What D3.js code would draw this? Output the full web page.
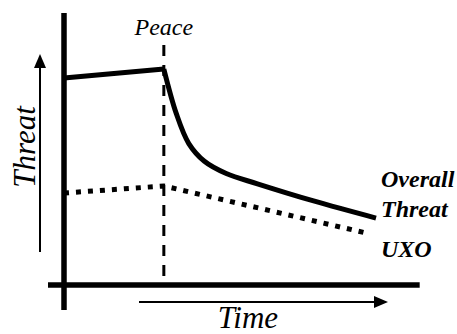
<!DOCTYPE html>
<html>
<head>
<meta charset="utf-8">
<script src="https://cdn.jsdelivr.net/npm/d3@7"></script>
<style>
  body { margin: 0; background: #fff; }
</style>
</head>
<body>
<div id="chart"></div>
<script>
// threat over time (arbitrary units)
const overallTime = [0, 32, 36, 40, 45, 52, 62, 80, 100];
const overallThreat = [76.1, 79.4, 63, 52, 45.5, 41, 37.2, 30.9, 24.6];
const uxoTime = [0, 32, 98];
const uxoThreat = [33.8, 36.4, 18.8];
const peaceTime = 32;
const seriesLabels = [["Overall", "Threat"], ["UXO"]];

const width = 457, height = 334;

const svg = d3.select("#chart").append("svg")
    .attr("width", width)
    .attr("height", height);

const x = d3.scaleLinear().domain([0, 100]).range([64, 376]);
const y = d3.scaleLinear().domain([0, 100]).range([285, 13]);

function label(sel) {
    return sel.attr("font-family", "Liberation Serif")
        .attr("font-style", "italic")
        .attr("fill", "#000");
}

// axes (thick lines, crossing at origin)
svg.append("line")
    .attr("x1", x(0)).attr("x2", x(0))
    .attr("y1", y(100)).attr("y2", y(0) + 25)
    .attr("stroke", "#000").attr("stroke-width", 5.5);
svg.append("line")
    .attr("x1", x(0) - 16).attr("x2", x(114))
    .attr("y1", y(0)).attr("y2", y(0))
    .attr("stroke", "#000").attr("stroke-width", 5.5);

// peace marker
svg.append("line")
    .attr("x1", x(peaceTime)).attr("x2", x(peaceTime))
    .attr("y1", 45).attr("y2", y(0) - 6)
    .attr("stroke", "#000").attr("stroke-width", 3)
    .attr("stroke-dasharray", "11,9");
svg.append("text").call(label)
    .attr("x", x(peaceTime)).attr("y", 35)
    .attr("text-anchor", "middle")
    .attr("font-size", 24)
    .text("Peace");

// overall threat: plateau then decay after peace
const overall = overallTime.map((t, i) => ({t: t, v: overallThreat[i]}));
const straight = d3.line().x(d => x(d.t)).y(d => y(d.v));
const smooth = d3.line().x(d => x(d.t)).y(d => y(d.v)).curve(d3.curveCatmullRom.alpha(0.5));

svg.append("path")
    .attr("d", straight(overall.slice(0, 2)))
    .attr("fill", "none").attr("stroke", "#000").attr("stroke-width", 5);
svg.append("path")
    .attr("d", smooth(overall.slice(1)))
    .attr("fill", "none").attr("stroke", "#000").attr("stroke-width", 5)
    .attr("stroke-linejoin", "round");

// UXO
const uxo = uxoTime.map((t, i) => ({t: t, v: uxoThreat[i]}));
svg.append("path")
    .attr("d", straight(uxo))
    .attr("fill", "none").attr("stroke", "#000").attr("stroke-width", 5)
    .attr("stroke-dasharray", "5,7");

// series labels
svg.append("text").call(label).attr("font-size", 24).attr("font-weight", "bold")
    .attr("x", 381).attr("y", 187).text(seriesLabels[0][0]);
svg.append("text").call(label).attr("font-size", 24).attr("font-weight", "bold")
    .attr("x", 381).attr("y", 217).text(seriesLabels[0][1]);
svg.append("text").call(label).attr("font-size", 24).attr("font-weight", "bold")
    .attr("x", 381).attr("y", 257).text(seriesLabels[1][0]);

// y arrow + label
svg.append("line")
    .attr("x1", 40).attr("x2", 40).attr("y1", 252).attr("y2", 64)
    .attr("stroke", "#000").attr("stroke-width", 2);
svg.append("path")
    .attr("d", "M40,54 L34,68 L46,68 Z").attr("fill", "#000");
svg.append("text").call(label)
    .attr("transform", "translate(35,147) rotate(-90)")
    .attr("text-anchor", "middle")
    .attr("font-size", 31)
    .text("Threat");

// x arrow + label
svg.append("line")
    .attr("x1", 139).attr("x2", 377).attr("y1", 302).attr("y2", 302)
    .attr("stroke", "#000").attr("stroke-width", 2);
svg.append("path")
    .attr("d", "M388,302 L374,296 L374,308 Z").attr("fill", "#000");
svg.append("text").call(label)
    .attr("x", 248).attr("y", 328)
    .attr("text-anchor", "middle")
    .attr("font-size", 31)
    .text("Time");
</script>
</body>
</html>
